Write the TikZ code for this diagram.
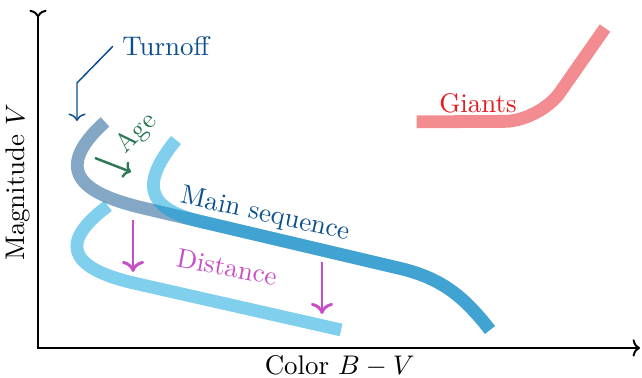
\documentclass[tikz,border=0pt,11pt]{standalone}
\usepackage{amsmath,amssymb}
\usepackage{xcolor}
\usetikzlibrary{arrows.meta, positioning}

\definecolor{isoblue}{HTML}{0B4F8E}
\definecolor{seqblue}{HTML}{00A0DC}
\definecolor{giantred}{HTML}{E51A22}
\definecolor{agegreen}{HTML}{2E7A55}
\definecolor{distpink}{HTML}{C64FC8}

\tikzset{
  band/.style={line width=5.2pt, opacity=0.5},
  bigtip/.style={-{Computer Modern Rightarrow[length=4.5pt,width=9pt]}},
}

\begin{document}
\begin{tikzpicture}[>={Computer Modern Rightarrow[length=3pt,width=7pt]}]
  \useasboundingbox (-0.543,-0.429) rectangle (8.629,4.971);
  % axes
  \draw[thick, >->] (0,4.83) -- (0,0) -- (8.6,0);
  \node[anchor=base, inner sep=0.5pt] (xlab) at (4.31,-0.38) {Color $B-V$};
  \node[rotate=90, inner sep=1pt] (ylab) at (-0.29,2.37) {Magnitude $V$};
  % older isochrone (joins the main sequence)
  \draw[band, isoblue] (0.957,3.229) .. controls (0.15,2.5) and (0.7,2.19) .. (1.5,2.0)
    -- (5.2,1.13) to[out=-14,in=128] (6.457,0.257);
  % main sequence
  \draw[band, seqblue] (1.971,2.971) .. controls (1.38,2.25) and (1.65,1.95) .. (2.4,1.79)
    -- (5.2,1.13) to[out=-14,in=128] (6.457,0.257);
  % shifted by distance
  \draw[band, seqblue] (1.0,2.029) .. controls (0.15,1.4) and (0.65,1.09) .. (1.4,0.92)
    -- (4.33,0.257);
  % giant branch
  \draw[band, giantred, rounded corners=0.5cm] (5.41,3.23) -- (7.17,3.24) -- (8.1,4.57);
  \node[giantred] (giants) at (6.286,3.5) {Giants};
  % turnoff
  \node[isoblue, anchor=west] (turnoff) at (1.07,4.31) {Turnoff};
  \coordinate (knee) at (0.557,3.786);
  \coordinate (toff) at (0.557,3.243);
  \draw[isoblue, semithick, ->] (turnoff.west) -- (knee) -- (toff);
  % age
  \node[agegreen, rotate=45, inner sep=1pt] (age) at (1.414,3.06) {Age};
  \coordinate (age0) at (0.814,2.714);
  \coordinate (age1) at (1.329,2.514);
  \draw[agegreen, line width=1pt, ->] (age0) -- (age1);
  % labels on the bands
  \node[isoblue, rotate=-12.5, inner sep=1pt] (mslab) at (3.243,1.9) {Main sequence};
  \node[distpink, rotate=-11, inner sep=1pt] (dist) at (2.7,1.157) {Distance};
  % distance shift
  \coordinate (d0) at (1.357,1.829);
  \coordinate (d1) at (1.357,1.086);
  \coordinate (d2) at (4.057,1.229);
  \coordinate (d3) at (4.057,0.486);
  \draw[distpink, line width=1.2pt, bigtip] (d0) -- (d1);
  \draw[distpink, line width=1.2pt, bigtip] (d2) -- (d3);
\end{tikzpicture}
\end{document}
